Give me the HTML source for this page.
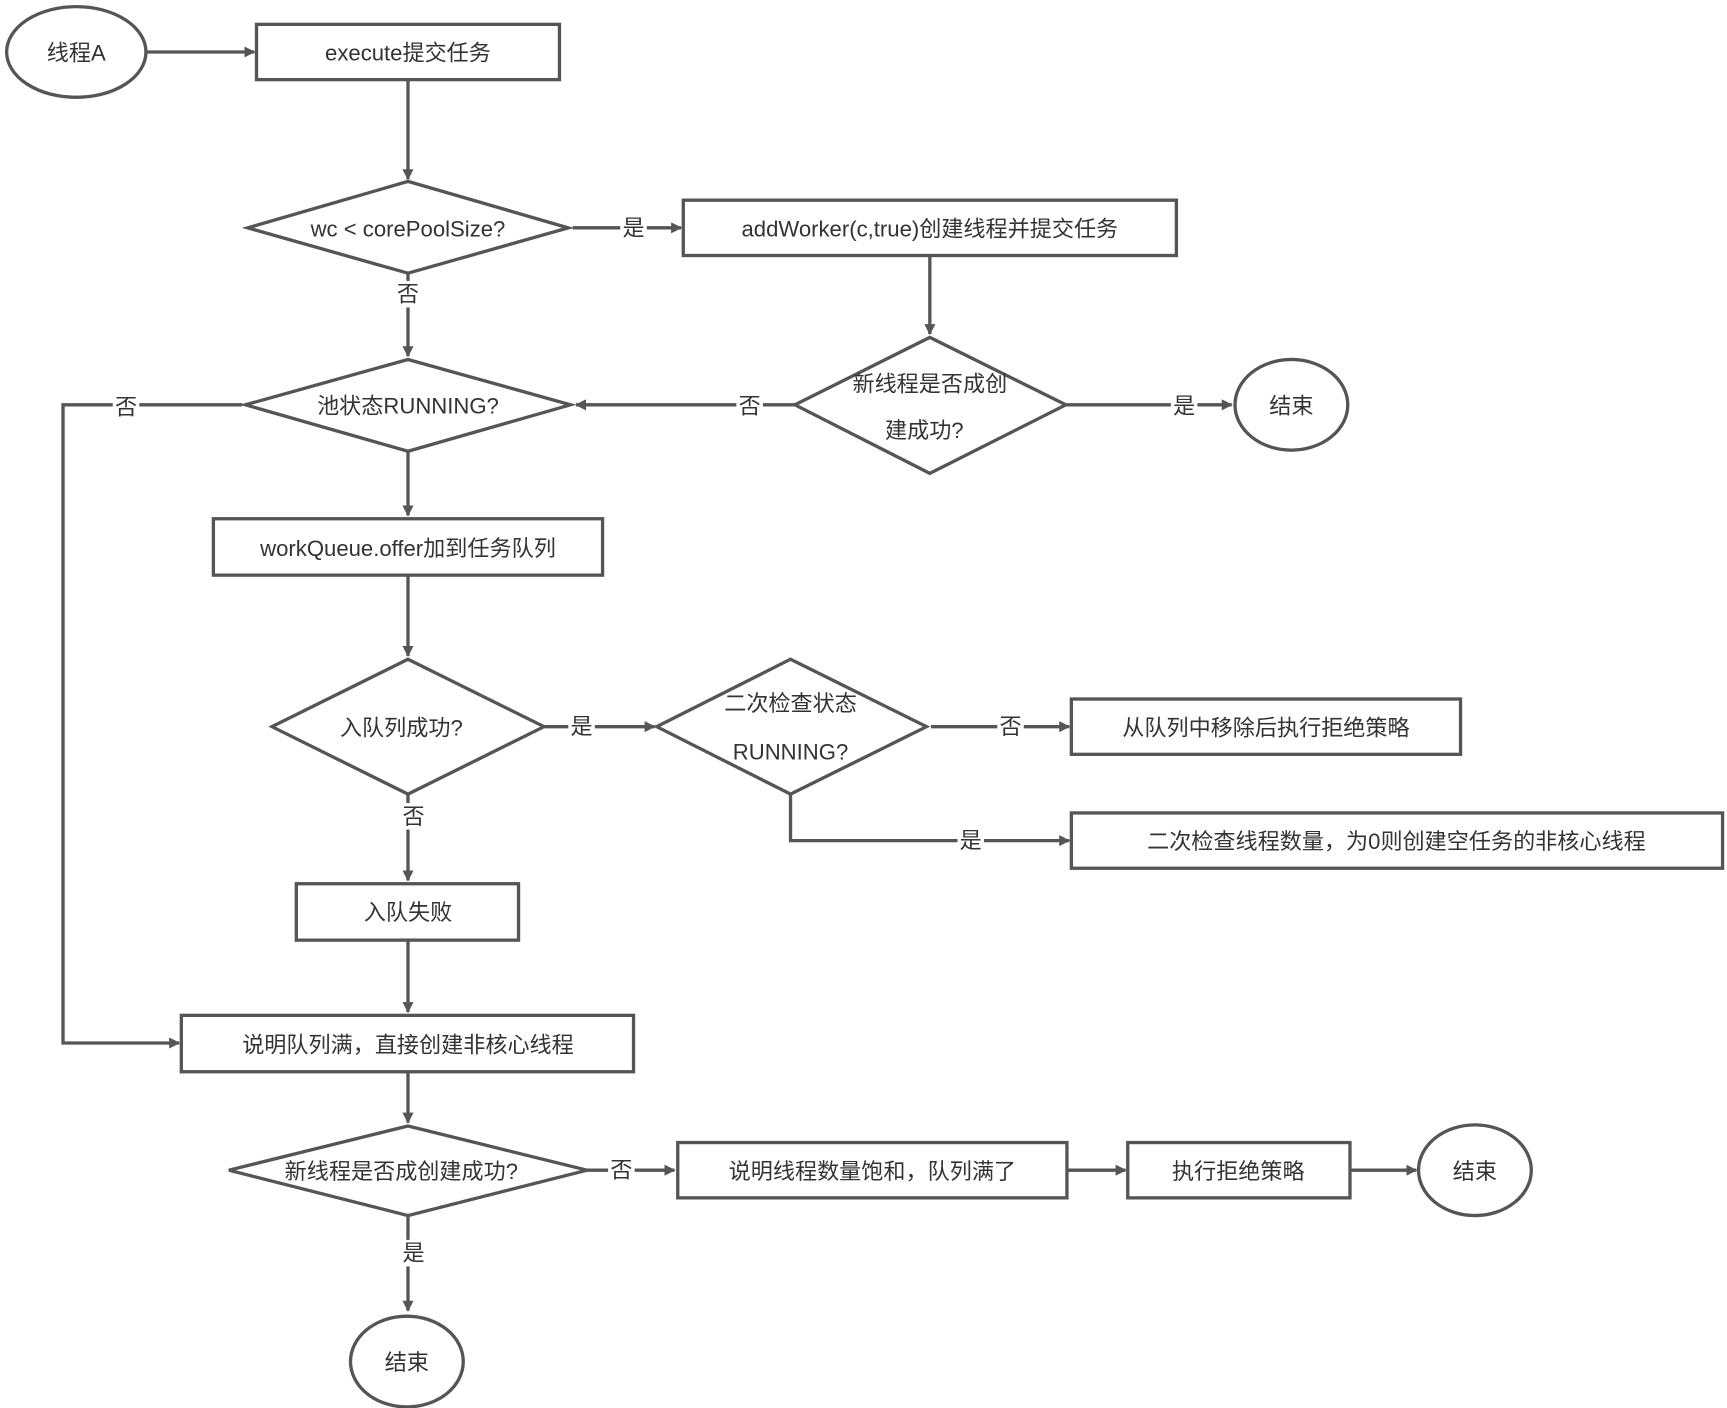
<!DOCTYPE html>
<html><head><meta charset="utf-8">
<style>
html,body{margin:0;padding:0;background:#fff;}
svg{display:block;}
text{font-family:"Liberation Sans","Noto Sans CJK SC",sans-serif;font-size:20px;fill:#333;text-anchor:middle;dominant-baseline:central;}
.s{fill:#fff;stroke:#555;stroke-width:3;}
.l{fill:none;stroke:#555;stroke-width:3;}
</style></head>
<body>
<svg width="1727" height="1408" viewBox="0 0 1562 1273" preserveAspectRatio="none" xmlns="http://www.w3.org/2000/svg">
<defs>
<marker id="a" markerWidth="10" markerHeight="10" refX="9" refY="5" orient="auto" markerUnits="userSpaceOnUse" viewBox="0 0 10 10">
<path d="M0,0 L10,5 L0,10 Z" fill="#555"/>
</marker>
</defs>
<!-- connectors -->
<g class="l" marker-end="url(#a)">
<path d="M132,47 H230"/>
<path d="M369,72 V162"/>
<path d="M518,206 H616"/>
<path d="M841,231 V302"/>
<path d="M964,366 H1114"/>
<path d="M719,366 H521"/>
<path d="M369,247 V322"/>
<path d="M219,366 H57 V943 H162"/>
<path d="M369,408 V466"/>
<path d="M369,520 V593"/>
<path d="M492,657 H592"/>
<path d="M842,657 H967"/>
<path d="M715,718 V760 H967"/>
<path d="M369,718 V796"/>
<path d="M369,850 V915"/>
<path d="M369,969 V1015"/>
<path d="M531,1058 H610"/>
<path d="M965,1058 H1018"/>
<path d="M1221,1058 H1281"/>
<path d="M369,1099 V1185"/>
</g>
<!-- shapes -->
<ellipse class="s" cx="69" cy="47" rx="63" ry="41"/>
<rect class="s" x="232" y="22" width="274" height="50"/>
<polygon class="s" points="369,164 514,206 369,247 224,206"/>
<rect class="s" x="618" y="181" width="446" height="50"/>
<polygon class="s" points="841,305 964,366 841,428 719,366"/>
<ellipse class="s" cx="1168" cy="366" rx="51" ry="41"/>
<polygon class="s" points="369,325 516,366 369,408 222,366"/>
<rect class="s" x="193" y="469" width="352" height="51"/>
<polygon class="s" points="369,596 492,657 369,718 246,657"/>
<polygon class="s" points="715,596 838,657 715,718 594,657"/>
<rect class="s" x="969" y="632" width="352" height="50"/>
<rect class="s" x="969" y="735" width="589" height="50"/>
<rect class="s" x="268" y="799" width="201" height="51"/>
<rect class="s" x="164" y="918" width="409" height="51"/>
<polygon class="s" points="369,1018 531,1058 369,1099 207,1058"/>
<rect class="s" x="613" y="1033" width="352" height="50"/>
<rect class="s" x="1020" y="1033" width="201" height="50"/>
<ellipse class="s" cx="1334" cy="1058" rx="51" ry="41"/>
<ellipse class="s" cx="368" cy="1231" rx="51" ry="41"/>
<!-- label backgrounds -->
<g fill="#fff">
<rect x="561" y="194" width="24" height="24"/>
<rect x="1059" y="354" width="24" height="24"/>
<rect x="666" y="354" width="24" height="24"/>
<rect x="357" y="254" width="24" height="24"/>
<rect x="102" y="356" width="24" height="24"/>
<rect x="514" y="645" width="24" height="24"/>
<rect x="902" y="645" width="24" height="24"/>
<rect x="866" y="748" width="24" height="24"/>
<rect x="362" y="726" width="24" height="24"/>
<rect x="550" y="1046" width="24" height="24"/>
<rect x="362" y="1121" width="24" height="24"/>
</g>
<!-- text -->
<text x="69" y="48">线程A</text>
<text x="369" y="48">execute提交任务</text>
<text x="369" y="207">wc &lt; corePoolSize?</text>
<text x="573" y="206">是</text>
<text x="841" y="207">addWorker(c,true)创建线程并提交任务</text>
<text x="841" y="347">新线程是否成创</text>
<text x="836" y="389">建成功?</text>
<text x="1071" y="367">是</text>
<text x="1168" y="367">结束</text>
<text x="678" y="367">否</text>
<text x="369" y="266">否</text>
<text x="369" y="367">池状态RUNNING?</text>
<text x="114" y="368">否</text>
<text x="369" y="496">workQueue.offer加到任务队列</text>
<text x="363" y="658">入队列成功?</text>
<text x="526" y="657">是</text>
<text x="715" y="636">二次检查状态</text>
<text x="715" y="680">RUNNING?</text>
<text x="914" y="657">否</text>
<text x="1145" y="658">从队列中移除后执行拒绝策略</text>
<text x="878" y="760">是</text>
<text x="1263" y="761">二次检查线程数量，为0则创建空任务的非核心线程</text>
<text x="374" y="738">否</text>
<text x="369" y="825">入队失败</text>
<text x="369" y="945">说明队列满，直接创建非核心线程</text>
<text x="363" y="1059">新线程是否成创建成功?</text>
<text x="562" y="1058">否</text>
<text x="789" y="1059">说明线程数量饱和，队列满了</text>
<text x="1120" y="1059">执行拒绝策略</text>
<text x="1334" y="1059">结束</text>
<text x="374" y="1133">是</text>
<text x="368" y="1232">结束</text>
</svg>
</body></html>
